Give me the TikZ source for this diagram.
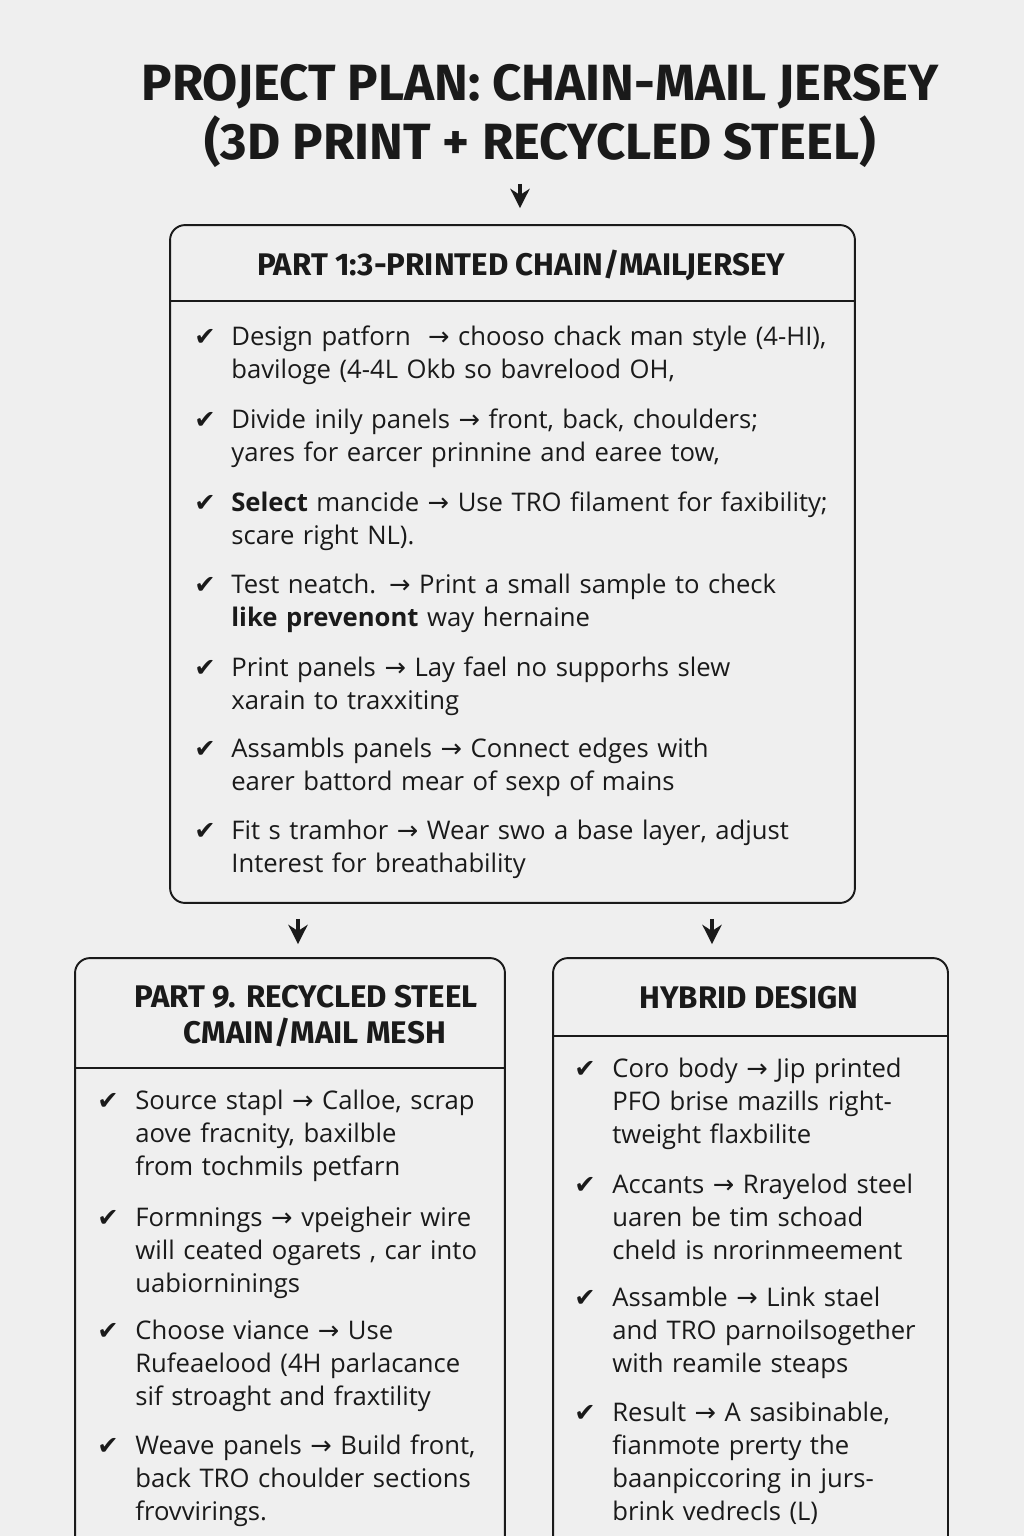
\documentclass[tikz,border=0pt]{standalone}
\usepackage{fontspec}
\setmainfont{Open Sans}
\newfontfamily\headfont{Fira Sans}
\newfontfamily\symfont{DejaVu Sans}
\usetikzlibrary{arrows.meta}
\definecolor{bgpaper}{RGB}{239,239,239}
\definecolor{ink}{RGB}{26,26,26}
\newcommand{\rarr}{{\symfont →}}
\newcommand{\chk}{{\symfont ✔}}

\begin{document}
\begin{tikzpicture}[x=0.02cm, y=-0.02cm,
  panel/.style={draw=ink, line width=1.1pt, rounded corners=0.3cm, inner sep=0pt},
  head/.style={font=\headfont\bfseries\fontsize{17.8}{20.5}\selectfont, text=ink, align=center},
  item/.style={anchor=base west, inner sep=0pt, text width=13cm, align=left, text=ink,
    font=\fontsize{14.6}{18.8}\selectfont},
  tickmark/.style={anchor=base west, inner sep=0pt, text=ink, font=\fontsize{14.5}{16}\selectfont},
  rule/.style={draw=ink, line width=1.1pt},
  arrow/.style={-{Stealth[length=11pt, width=11pt]}, line width=2.6pt, draw=ink}
]
\path[use as bounding box, fill=bgpaper] (0,0) rectangle (1024,1536);
\clip (0,0) rectangle (1024,1536);

% Title
\node[font=\headfont\bfseries\fontsize{29}{33.5}\selectfont, text=ink, align=center] (title) at (540,116)
  {PROJECT PLAN: CHAIN-MAIL JERSEY\\(3D PRINT + RECYCLED STEEL)};

% Panels
\node[panel, minimum width=13.7cm, minimum height=13.56cm] (plan) at (512.5,564) {};
\node[panel, minimum width=8.6cm, minimum height=12.84cm] (steel) at (290,1279) {};
\node[panel, minimum width=7.9cm, minimum height=12.84cm] (hybrid) at (750.5,1279) {};

% Panel headers
\node[head] (planhead) at (521,265) {PART 1:3-PRINTED CHAIN/MAILJERSEY};
\node[head] (steelhead) at (306,1016) {PART 9. RECYCLED STEEL\\\hspace*{0.35cm}CMAIN/MAIL MESH};
\node[head] (hybridhead) at (749,998) {HYBRID DESIGN};
\draw[rule] (plan.west |- 0,301) -- (plan.east |- 0,301);
\draw[rule] (steel.west |- 0,1068) -- (steel.east |- 0,1068);
\draw[rule] (hybrid.west |- 0,1036) -- (hybrid.east |- 0,1036);

% Part 1 steps
\foreach \y in {345,428,511,593,676,757,839}
  \node[tickmark] at (194,\y) {\chk};
\node[item] (p1) at (231,345) {Design patforn \ \rarr{} chooso chack man style (4-HI),\\baviloge (4-4L Okb so bavrelood OH,};
\node[item] (p2) at (231,428) {Divide inily panels \rarr{} front, back, choulders;\\yares for earcer prinnine and earee tow,};
\node[item] (p3) at (231,511) {\textbf{Select} mancide \rarr{} Use TRO filament for faxibility;\\scare right NL).};
\node[item] (p4) at (231,593) {Test neatch. \rarr{} Print a small sample to check\\\textbf{like prevenont} way hernaine};
\node[item] (p5) at (231,676) {Print panels \rarr{} Lay fael no supporhs slew\\xarain to traxxiting};
\node[item] (p6) at (231,757) {Assambls panels \rarr{} Connect edges with\\earer battord mear of sexp of mains};
\node[item] (p7) at (231,839) {Fit s tramhor \rarr{} Wear swo a base layer, adjust\\Interest for breathability};

% Part 2 steps
\foreach \y in {1109,1226,1339,1454}
  \node[tickmark] at (97,\y) {\chk};
\node[item] (s1) at (135,1109) {Source stapl \rarr{} Calloe, scrap\\aove fracnity, baxilble\\from tochmils petfarn};
\node[item] (s2) at (135,1226) {Formnings \rarr{} vpeigheir wire\\will ceated ogarets , car into\\uabiorninings};
\node[item] (s3) at (135,1339) {Choose viance \rarr{} Use\\Rufeaelood (4H parlacance\\sif stroaght and fraxtility};
\node[item] (s4) at (135,1454) {Weave panels \rarr{} Build front,\\back TRO choulder sections\\frovvirings.};

% Hybrid steps
\foreach \y in {1077,1193,1306,1421}
  \node[tickmark] at (574,\y) {\chk};
\node[item] (h1) at (612,1077) {Coro body \rarr{} Jip printed\\PFO brise mazills right-\\tweight flaxbilite};
\node[item] (h2) at (612,1193) {Accants \rarr{} Rrayelod steel\\uaren be tim schoad\\cheld is nrorinmeement};
\node[item] (h3) at (612,1306) {Assamble \rarr{} Link stael\\and TRO parnoilsogether\\with reamile steaps};
\node[item] (h4) at (612,1421) {Result \rarr{} A sasibinable,\\fianmote prerty the\\baanpiccoring in jurs-\\brink vedrecls (L)};

% Arrows between blocks
\coordinate (atop) at (520,0);
\coordinate (aleft) at (298,0);
\coordinate (aright) at (712,0);
\draw[arrow, shorten <=0.2cm, shorten >=0.32cm] (title.south -| atop) -- (plan.north -| atop);
\draw[arrow, shorten <=0.3cm, shorten >=0.26cm] (plan.south -| aleft) -- (steel.north -| aleft);
\draw[arrow, shorten <=0.3cm, shorten >=0.26cm] (plan.south -| aright) -- (hybrid.north -| aright);

\end{tikzpicture}
\end{document}
